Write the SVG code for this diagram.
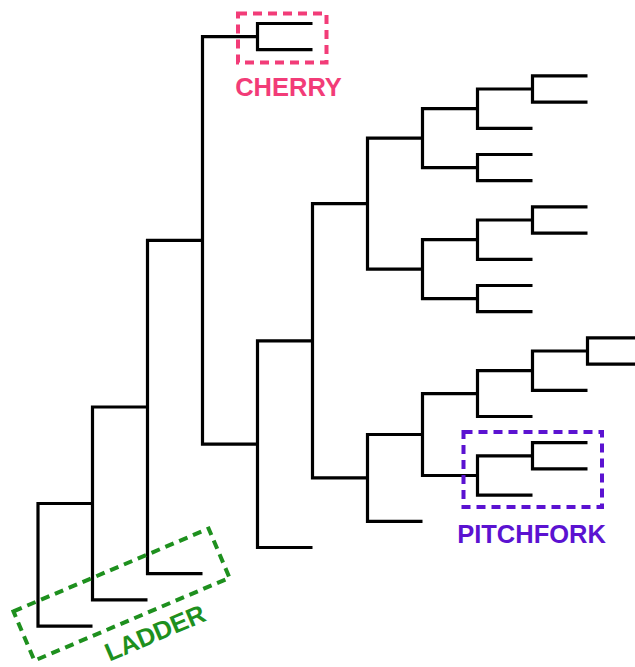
<svg xmlns="http://www.w3.org/2000/svg" width="635" height="667" viewBox="0 0 635 667">
<style>
.e{fill:none;stroke:#000;stroke-width:3.2;stroke-linejoin:miter;stroke-linecap:butt}
.box{fill:none;stroke-width:4;stroke-dasharray:9 6}
.lbl{font-family:"Liberation Sans",Arial,sans-serif;font-weight:bold;font-size:25.5px;text-anchor:middle}
</style>
<rect width="635" height="667" fill="#fff"/>
<g id="connectors">
<path class="e" d="M92.5 503.5 H38 V626.1 H92.5"/>
<path class="e" d="M147.5 407 H92.5 V599.9 H147.5"/>
<path class="e" d="M202.5 240.4 H147.5 V573.7 H202.5"/>
<path class="e" d="M257.5 36.6 H202.5 V444.1 H257.5"/>
<path class="e" d="M312.5 23.5 H257.5 V49.7 H312.5"/>
<path class="e" d="M312.5 340.8 H257.5 V547.5 H312.5"/>
<path class="e" d="M367.5 203.6 H312.5 V477.9 H367.5"/>
<path class="e" d="M422.5 138.1 H367.5 V269.1 H422.5"/>
<path class="e" d="M477.5 108.7 H422.5 V167.6 H477.5"/>
<path class="e" d="M532.5 89 H477.5 V128.3 H532.5"/>
<path class="e" d="M587.5 75.9 H532.5 V102.1 H587.5"/>
<path class="e" d="M532.5 154.5 H477.5 V180.7 H532.5"/>
<path class="e" d="M477.5 239.7 H422.5 V298.6 H477.5"/>
<path class="e" d="M532.5 220 H477.5 V259.3 H532.5"/>
<path class="e" d="M587.5 206.9 H532.5 V233.1 H587.5"/>
<path class="e" d="M532.5 285.5 H477.5 V311.7 H532.5"/>
<path class="e" d="M422.5 434.5 H367.5 V521.3 H422.5"/>
<path class="e" d="M477.5 393.6 H422.5 V475.5 H477.5"/>
<path class="e" d="M532.5 370.7 H477.5 V416.5 H532.5"/>
<path class="e" d="M587.5 351 H532.5 V390.3 H587.5"/>
<path class="e" d="M642 337.9 H587.5 V364.1 H642"/>
<path class="e" d="M532.5 455.8 H477.5 V495.1 H532.5"/>
<path class="e" d="M587.5 442.7 H532.5 V468.9 H587.5"/>
</g>
<g id="cherry">
<rect class="box" x="238" y="13.5" width="88.5" height="49" stroke="#f23c78"/>
<text class="lbl" x="288.5" y="96" fill="#f23c78">CHERRY</text>
</g>
<g id="pitchfork">
<rect class="box" x="463.5" y="432" width="138.5" height="75" stroke="#5b12d1"/>
<text class="lbl" x="531.5" y="543" fill="#5b12d1">PITCHFORK</text>
</g>
<g id="ladder">
<rect class="box" x="-106" y="-26.75" width="212" height="53.5" stroke="#1e901e" transform="translate(121.5 594.6) rotate(-23)"/>
<text class="lbl" fill="#1e901e" transform="translate(158.5 641) rotate(-23)">LADDER</text>
</g>
</svg>
